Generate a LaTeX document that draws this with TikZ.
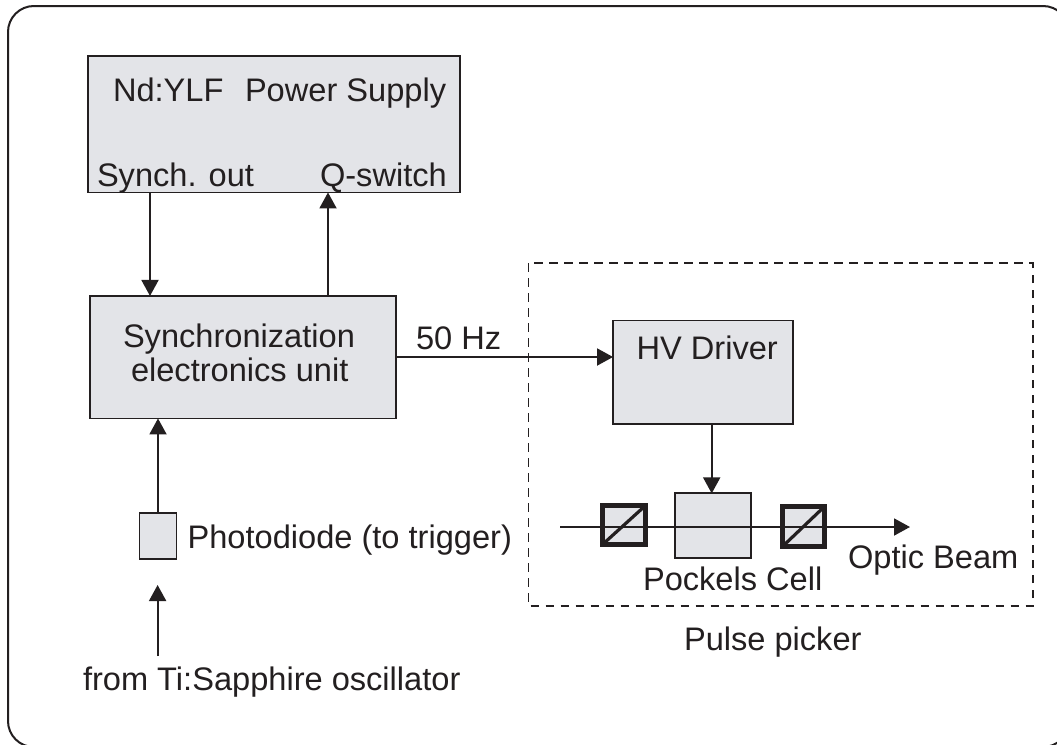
\documentclass[tikz,border=0pt]{standalone}
\usepackage{fontspec}
\setmainfont{Liberation Sans}
\usetikzlibrary{arrows.meta}
\definecolor{ink}{HTML}{231F20}
\definecolor{boxfill}{HTML}{E3E4E8}
\tikzset{
  x=1pt,y=-1pt,
  unit/.style={draw=ink,fill=boxfill,line width=1.9pt,rectangle,inner sep=0pt,outer sep=0pt},
  lbl/.style={text=ink,font=\fontsize{32.6}{36}\selectfont,inner sep=0pt,outer sep=0pt,anchor=base west},
  arr/.style={draw=ink,line width=1.9pt,-{Triangle[length=16pt,width=17pt]}},
  pol/.style={draw=ink,line width=5pt},
}
\begin{document}
\begin{tikzpicture}
\useasboundingbox (0,0) rectangle (1057,744);
\clip (0,0) rectangle (1057,744);
\fill[white] (0,0) rectangle (1057,744);
% frame
\draw[ink,line width=2pt,rounded corners=26pt] (8,6) rectangle (1069,747);
% dashed pulse picker
\draw[ink,line width=1.9pt,dash pattern=on 8.5pt off 6.5pt] (528.5,263) rectangle (1032.7,606);
% boxes
\node[unit,minimum width=372pt,minimum height=136.5pt] (nd) at (274,124.2) {};
\node[unit,minimum width=306pt,minimum height=122.5pt] (sync) at (243,357.2) {};
\node[unit,minimum width=37pt,minimum height=46pt] (pd) at (158,536) {};
\node[unit,minimum width=179.5pt,minimum height=103.5pt] (hv) at (702.8,372.2) {};
\node[unit,minimum width=75.5pt,minimum height=64.6pt] (pc) at (712.8,525.7) {};
% polarizer fills
\fill[boxfill] (602,505) rectangle (646,545);
\fill[boxfill] (782,506) rectangle (825,547);
% coordinates for connectors
\coordinate (c1) at (150,0);
\coordinate (c2) at (328,0);
\coordinate (c3) at (158,0);
\coordinate (c4) at (711.7,0);
\coordinate (c5) at (0,357);
\coordinate (fromtail) at (157.6,656);
\coordinate (fromtip) at (157.6,585);
\coordinate (beamstart) at (560,527);
\coordinate (beamend) at (910,527);
% connectors
\draw[arr] (c1 |- nd.south) -- (c1 |- sync.north);
\draw[arr] (c2 |- sync.north) -- (c2 |- nd.south);
\draw[arr] (c3 |- pd.north) -- (c3 |- sync.south);
\draw[arr] (fromtail) -- (fromtip);
\draw[arr] (sync.east |- c5) -- (hv.west |- c5);
\draw[arr] (c4 |- hv.south) -- (c4 |- pc.north);
\draw[arr] (beamstart) -- (beamend);
% polarizers
\draw[pol] (602.5,505.5) rectangle (645.5,544.5);
\draw[ink,line width=3.2pt] (602.5,544.5) -- (645.5,505.5);
\draw[pol] (782.5,506.5) rectangle (824.5,546.5);
\draw[ink,line width=3.2pt] (782.5,546.5) -- (824.5,506.5);
% labels
\node[lbl] (t1) at (113,101.7) {Nd:YLF};
\node[lbl] (t2) at (245,101.7) {Power Supply};
\node[lbl] (t3) at (97,186) {Synch. out};
\node[lbl] (t4) at (320,186) {Q-switch};
\node[lbl] (t5) at (123,347.5) {Synchronization};
\node[lbl] (t6) at (131,381) {electronics unit};
\node[lbl] (t7) at (416,349) {50 Hz};
\node[lbl] (t8) at (636.6,359) {HV Driver};
\node[lbl] (t9) at (187.6,548.6) {Photodiode (to trigger)};
\node[lbl] (t10) at (83,690.6) {from Ti:Sapphire oscillator};
\node[lbl] (t11) at (643,590) {Pockels Cell};
\node[lbl] (t12) at (848,568) {Optic Beam};
\node[lbl] (t13) at (684,650) {Pulse picker};
\end{tikzpicture}
\end{document}
